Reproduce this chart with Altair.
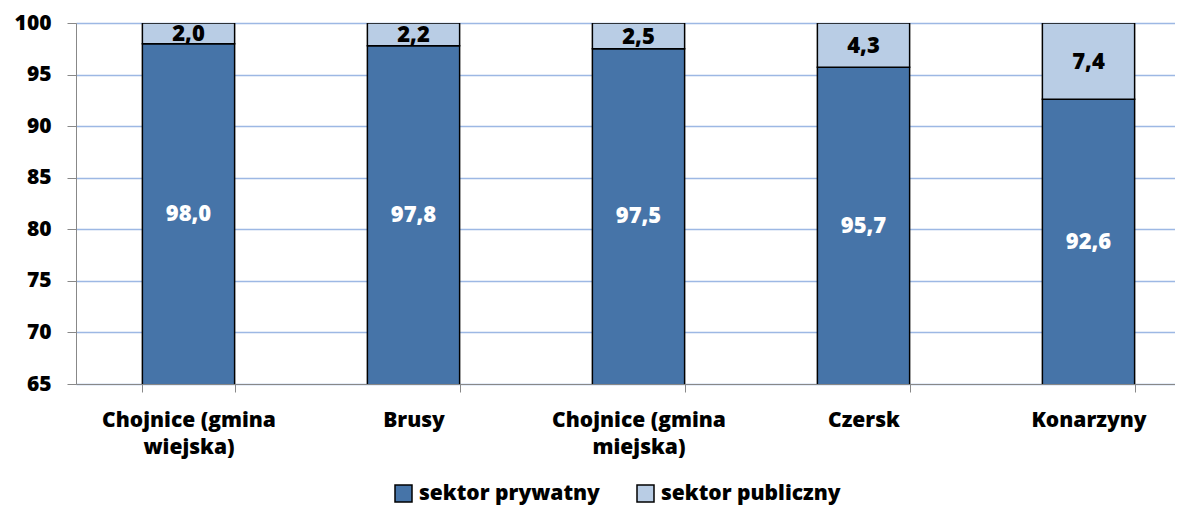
import altair as alt
import pandas as pd

categories = ["Chojnice (gmina wiejska)", "Brusy", "Chojnice (gmina miejska)", "Czersk", "Konarzyny"]
private = [98.0, 97.8, 97.5, 95.7, 92.6]
public = [2.0, 2.2, 2.5, 4.3, 7.4]
series = ["sektor prywatny", "sektor publiczny"]
colors = ["#4674A8", "#B9CDE5"]
y_min, y_max = 65, 100

rows = []
for c, a, b in zip(categories, private, public):
    rows.append({"cat": c, "sector": series[0], "ord": 0, "value": a})
    rows.append({"cat": c, "sector": series[1], "ord": 1, "value": b})
df = pd.DataFrame(rows)

FONT = "Open Sans"
W = 800

x_enc = alt.X("cat:N", sort=categories, title=None,
              scale=alt.Scale(paddingInner=0.59, paddingOuter=0.295, range=[0, 1125]),
              axis=alt.Axis(labelAngle=0, labelFontSize=21, labelFontWeight=W, labelColor="black",
                            labelFont=FONT, labelPadding=17, labelLineHeight=27, tickBand="extent",
                            tickSize=8, tickColor="#888888", domainColor="#888888",
                            labelLimit=300,
                            labelExpr="length(datum.label) > 12 ? [substring(datum.label, 0, lastindexof(datum.label, ' ')), substring(datum.label, lastindexof(datum.label, ' ') + 1)] : datum.label"))

y_scale = alt.Scale(domain=[y_min, y_max], nice=False, zero=False)

bars = alt.Chart(df).mark_bar(stroke="black", strokeWidth=1.5, clip=True).encode(
    x=x_enc,
    y=alt.Y("value:Q", stack="zero", scale=y_scale, title=None,
            axis=alt.Axis(values=list(range(65, 101, 5)), labelFontSize=21, labelFontWeight=W,
                          labelColor="black", labelFont=FONT, tickSize=9, tickColor="#888888",
                          domainColor="#888888", gridColor="#9DB8E4", gridWidth=1.3, labelPadding=16)),
    color=alt.Color("sector:N", scale=alt.Scale(domain=series, range=colors), title=None,
                    legend=alt.Legend(orient="none", legendX=317, legendY=460, direction="horizontal",
                                      symbolType="square", symbolSize=289, symbolStrokeColor="black",
                                      symbolStrokeWidth=1.5, labelFontSize=21, labelFontWeight=W,
                                      labelFont=FONT, labelColor="black", columnPadding=34, labelOffset=5,
                                      labelLimit=400)),
    order=alt.Order("ord:Q"),
)

lab_priv = alt.Chart(df).transform_filter(alt.datum.ord == 0).transform_calculate(
    pos=f"({y_min} + datum.value) / 2",
    txt="replace(format(datum.value, '.1f'), '.', ',')",
).mark_text(color="white", fontSize=22, fontWeight=W, font=FONT).encode(
    x=alt.X("cat:N", sort=categories),
    y=alt.Y("pos:Q", scale=y_scale),
    text="txt:N",
)

lab_pub = alt.Chart(df).transform_filter(alt.datum.ord == 1).transform_calculate(
    pos=f"{y_max} - datum.value / 2",
    txt="replace(format(datum.value, '.1f'), '.', ',')",
).mark_text(color="black", fontSize=22, fontWeight=W, font=FONT, dy=1).encode(
    x=alt.X("cat:N", sort=categories),
    y=alt.Y("pos:Q", scale=y_scale),
    text="txt:N",
)

chart = alt.layer(bars, lab_priv, lab_pub).properties(
    width=1099, height=361,
    autosize=alt.AutoSizeParams(type="none"),
    padding={"left": 68, "top": 15, "right": 0, "bottom": 127},
).configure_view(stroke=None).configure(font=FONT)

chart.save("out.html", embed_options={"renderer": "svg", "actions": False})
